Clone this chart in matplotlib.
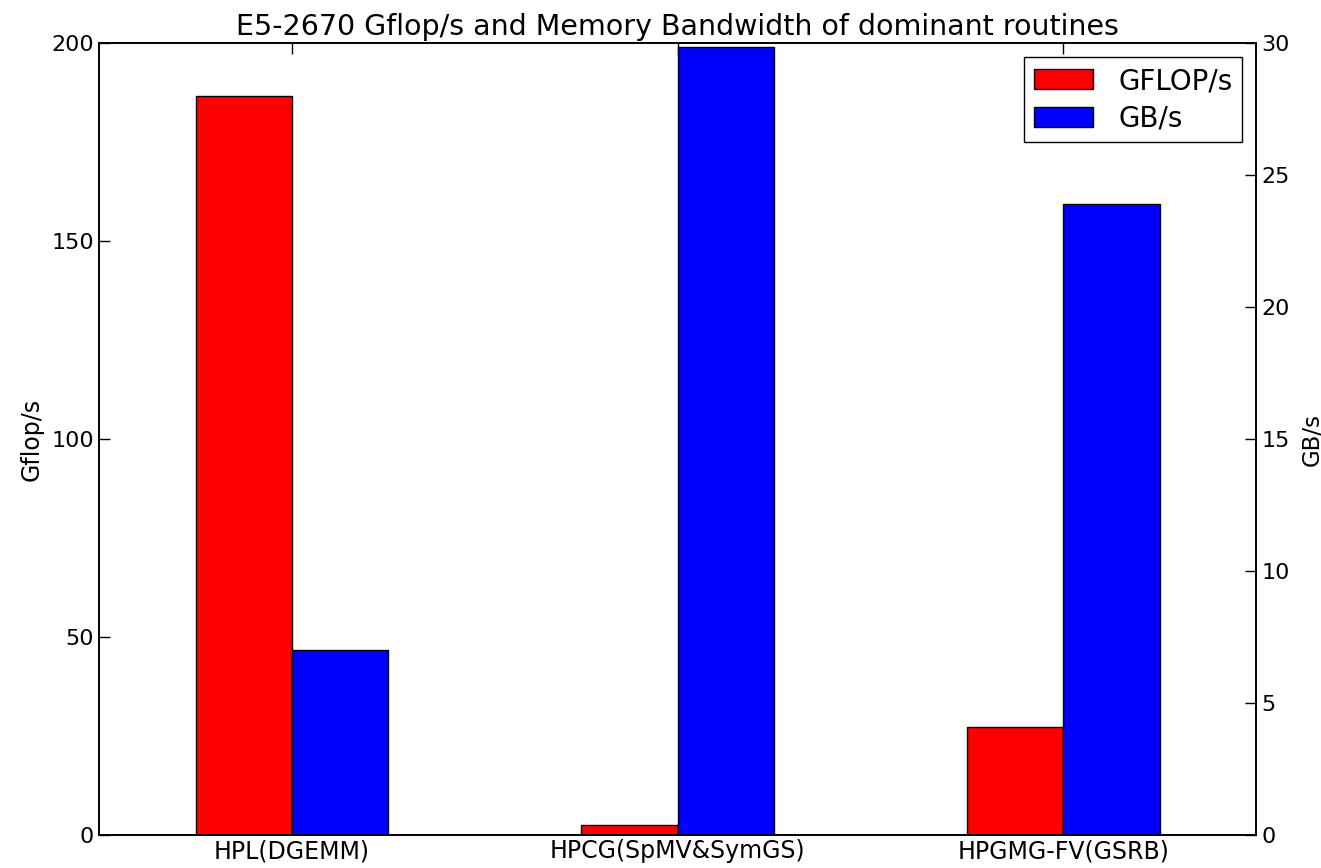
import matplotlib
matplotlib.use("Agg")
import matplotlib.pyplot as plt
import numpy as np

# data
routines = ["HPL(DGEMM)", "HPCG(SpMV&SymGS)", "HPGMG-FV(GSRB)"]
gflops = [186.8, 2.5, 27.3]
gbs = [7.0, 29.85, 23.9]

plt.rcParams['xtick.direction'] = 'in'
plt.rcParams['ytick.direction'] = 'in'

fig = plt.figure(figsize=(13.21, 8.68), dpi=100)
ax = fig.add_axes([0.075, 0.038, 0.876, 0.912])
ax2 = ax.twinx()

x = np.arange(len(routines))
w = 0.25
b1 = ax.bar(x - w / 2, gflops, w, color='red', edgecolor='black', linewidth=1, label='GFLOP/s')
b2 = ax2.bar(x + w / 2, gbs, w, color='blue', edgecolor='black', linewidth=1, label='GB/s')

ax.set_xlim(-0.5, 2.5)
ax.set_ylim(0, 200)
ax2.set_ylim(0, 30)
ax.set_yticks([0, 50, 100, 150, 200])
ax2.set_yticks([0, 5, 10, 15, 20, 25, 30])
ax.set_xticks(x)
ax.set_xticklabels(routines, fontsize=17)
ax.tick_params(axis='y', labelsize=16, length=8, width=1)
ax.tick_params(axis='x', top=True, length=8, width=1, pad=3)
ax2.tick_params(axis='y', labelsize=16, length=8, width=1)

ax.set_ylabel("Gflop/s", fontsize=17, labelpad=6)
ax2.set_ylabel("GB/s", fontsize=16.5, labelpad=8)
ax.set_title("E5-2670 Gflop/s and Memory Bandwidth of dominant routines", fontsize=20.5, pad=6)

for a in (ax, ax2):
    for s in a.spines.values():
        s.set_linewidth(1.2)

ax2.legend([b1, b2], ['GFLOP/s', 'GB/s'], loc='upper right', fontsize=20,
           fancybox=False, edgecolor='black', framealpha=1,
           handlelength=2.15, handleheight=0.75, handletextpad=0.9,
           labelspacing=0.35, borderpad=0.35, borderaxespad=0.5)

plt.savefig("out.png", dpi=100)
